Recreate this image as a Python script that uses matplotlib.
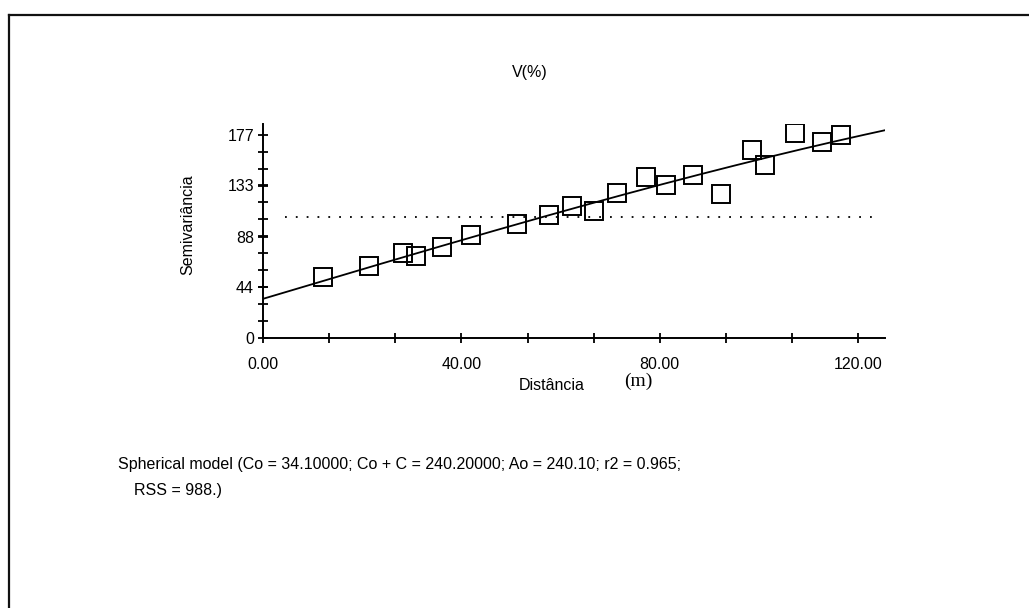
import numpy as np
import matplotlib
matplotlib.use("Agg")
import matplotlib.pyplot as plt
from matplotlib.lines import Line2D

plt.rcParams['font.family'] = ['Liberation Sans', 'DejaVu Sans']

# ---- data ----
distance = [12.0, 21.4, 28.3, 30.8, 36.0, 42.0, 51.2, 57.7, 62.3, 66.7,
            71.3, 77.3, 81.3, 86.6, 92.4, 98.6, 101.3, 107.3, 112.7, 116.5]
semivar = [52.7, 62.9, 74.0, 71.1, 79.0, 90.0, 99.3, 107.2, 114.8, 110.9,
           126.1, 140.1, 132.8, 141.5, 125.5, 163.3, 150.8, 178.5, 170.6, 176.4]
# spherical model parameters (from caption)
Co = 34.1
Co_plus_C = 240.2
Ao = 240.1
sill_line = 105.0  # dotted line (sample variance)
yticks = [0, 44, 88, 133, 177]
xticks = [0, 40, 80, 120]
xticklabels = ["0.00", "40.00", "80.00", "120.00"]

fig = plt.figure(figsize=(10.29, 6.08), dpi=100)
ax = fig.add_axes([263/1029, 270/608, (885-263)/1029, (338-124)/608])

xmax = 125.4
ymax = 186.3

# model curve
h = np.linspace(0, xmax, 300)
C = Co_plus_C - Co
r = np.clip(h / Ao, 0, 1)
gamma = Co + C * (1.5 * r - 0.5 * r**3)
ax.plot(h, gamma, color='black', lw=1.3, zorder=2)

# dotted line
ax.plot([4.5, 124], [sill_line, sill_line], color='black', lw=1.3,
        linestyle=(0, (1, 5)), zorder=1)

# points
ax.plot(distance, semivar, linestyle='none', marker='s', markersize=13,
        markerfacecolor='none', markeredgecolor='black', markeredgewidth=1.4,
        zorder=3)

ax.set_xlim(0, xmax)
ax.set_ylim(0, ymax)
for s in ['top', 'right']:
    ax.spines[s].set_visible(False)
for s in ['left', 'bottom']:
    ax.spines[s].set_linewidth(1.4)

ax.set_xticks(xticks)
ax.set_xticklabels(xticklabels)
ax.set_yticks(yticks)
ax.set_yticklabels([str(v) for v in yticks])
ax.set_xticks(np.arange(0, 121, 40/3), minor=True)
ax.set_yticks(np.arange(0, 178, 177/12), minor=True)
ax.tick_params(which='both', direction='inout', length=7, width=1.3,
               labelsize=11.5, color='black')
ax.tick_params(axis='x', which='major', pad=10)
ax.tick_params(axis='y', which='major', pad=3)

# labels
fig.text(530/1029, 1 - 72/608, "V(%)", ha='center', va='center', fontsize=11.5)
fig.text(552/1029, 1 - 385/608, "Distância", ha='center', va='center', fontsize=11.5)
fig.text(638/1029, 1 - 381/608, "(m)", ha='center', va='center', fontsize=14,
         family=['Liberation Serif', 'DejaVu Serif'])
fig.text(188/1029, 1 - 225/608, "Semivariância", ha='center', va='center',
         fontsize=11.5, rotation=90)
fig.text(118/1029, 1 - 465/608,
         "Spherical model (Co = 34.10000; Co + C = 240.20000; Ao = 240.10; r2 = 0.965;",
         ha='left', va='center', fontsize=11.5)
fig.text(134/1029, 1 - 490/608, "RSS = 988.)", ha='left', va='center', fontsize=11.5)

# outer border (top and left)
fig.add_artist(Line2D([9/1029, 1], [1 - 15/608, 1 - 15/608], color='#111111',
                      lw=1.6, transform=fig.transFigure))
fig.add_artist(Line2D([9/1029, 9/1029], [0, 1 - 15/608], color='#111111',
                      lw=1.6, transform=fig.transFigure))

fig.savefig("out.png", dpi=100)
